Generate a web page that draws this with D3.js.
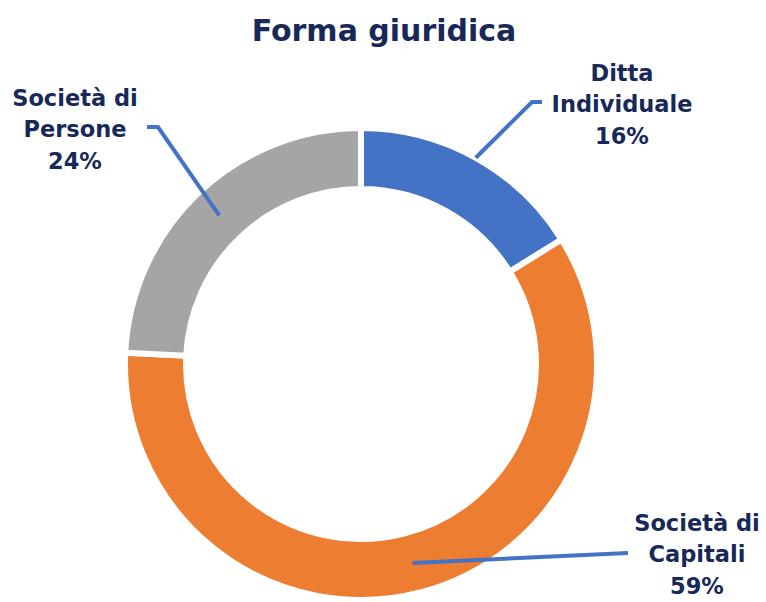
<!DOCTYPE html>
<html lang="it">
<head>
<meta charset="UTF-8">
<title>Forma giuridica</title>
<script src="https://cdn.jsdelivr.net/npm/d3@7"></script>
<style>
  body { margin: 0; background: #fff; }
  text { font-family: "DejaVu Sans", sans-serif; font-weight: bold; fill: #182858; }
</style>
</head>
<body>
<script>
    const categories = ["Ditta Individuale", "Società di Capitali", "Società di Persone"];
    const values = [16, 59, 24];
    const label_lines = [["Ditta", "Individuale"], ["Società di", "Capitali"], ["Società di", "Persone"]];
    const colors = ["#4472c4", "#ed7d31", "#a5a5a5"];

    const width = 766, height = 602;
    const cx = 361, cy = 364;
    // the white stroke eats 3px on each edge
    const outer_radius = 236, inner_radius = 175;

    // where each label sits, and the leader line elbow (layout only)
    const layout = [
        {x: 622, y: 73, start_r: outer_radius, elbow: [532, 102], end: [542, 102]},
        {x: 697, y: 523, start_r: (outer_radius + inner_radius) / 2, elbow: null, end: [628, 553]},
        {x: 75, y: 98, start_r: (outer_radius + inner_radius) / 2, elbow: [158, 127], end: [147, 127]}
    ];

    const svg = d3.select("body").append("svg").attr("width", width).attr("height", height);

    svg.append("text")
        .attr("x", 384).attr("y", 41)
        .attr("text-anchor", "middle")
        .attr("font-size", 30)
        .text("Forma giuridica");

    const pie = d3.pie().sort(null).value(d => d);
    const arcs = pie(values);

    const arc = d3.arc().innerRadius(inner_radius).outerRadius(outer_radius);

    const g = svg.append("g").attr("transform", `translate(${cx},${cy})`);

    g.selectAll("path")
        .data(arcs)
        .join("path")
        .attr("d", arc)
        .attr("fill", (d, i) => colors[i])
        .attr("stroke", "#fff")
        .attr("stroke-width", 6)
        .attr("stroke-linejoin", "miter");

    // leader lines
    arcs.forEach((d, i) => {
        const a = (d.startAngle + d.endAngle) / 2;
        const r = layout[i].start_r;
        const p0 = [cx + r * Math.sin(a), cy - r * Math.cos(a)];
        const pts = [p0];
        if (layout[i].elbow) pts.push(layout[i].elbow);
        pts.push(layout[i].end);
        svg.append("path")
            .attr("d", d3.line()(pts))
            .attr("fill", "none")
            .attr("stroke", "#4472c4")
            .attr("stroke-width", 4);
    });

    // labels
    arcs.forEach((d, i) => {
        const t = svg.append("text")
            .attr("text-anchor", "middle")
            .attr("font-size", 22.5);
        const lines = label_lines[i].concat([values[i] + "%"]);
        lines.forEach((s, j) => {
            t.append("tspan")
                .attr("x", layout[i].x)
                .attr("y", layout[i].y + j * 31.5)
                .attr("dy", "0.35em")
                .text(s);
        });
    });
</script>
</body>
</html>
